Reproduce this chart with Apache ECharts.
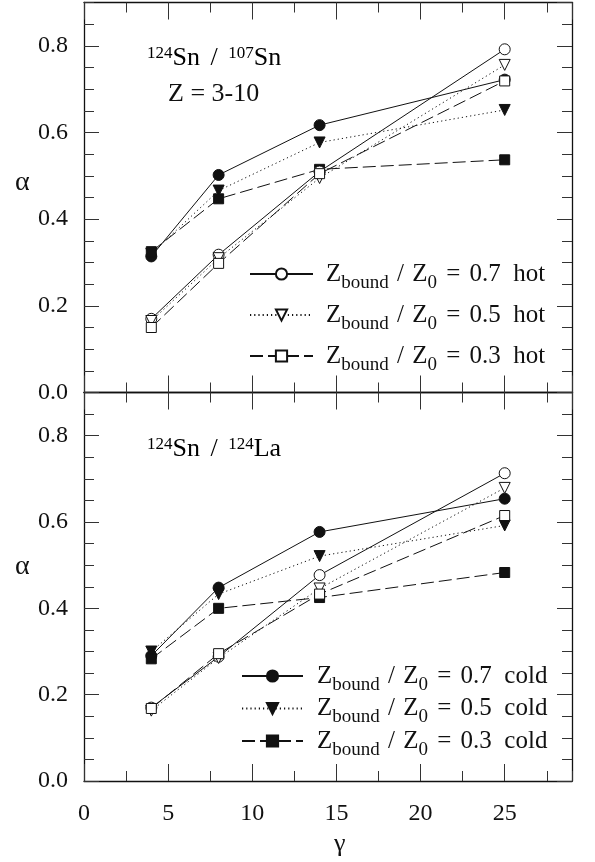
<!DOCTYPE html>
<html><head><meta charset="utf-8">
<script src="https://cdn.jsdelivr.net/npm/echarts@6/dist/echarts.min.js"></script>
<style>html,body{margin:0;padding:0;background:#fff}#c{width:595px;height:862px}</style>
</head><body><div id="c"></div>
<script>
const gammas = [4, 8, 14, 25];
// top panel: 124Sn / 107Sn
const hot07T = [0.170, 0.318, 0.510, 0.792];
const hot05T = [0.165, 0.310, 0.495, 0.756];
const hot03T = [0.150, 0.298, 0.505, 0.719];
const cold07T = [0.314, 0.502, 0.617, 0.722];
const cold05T = [0.320, 0.466, 0.577, 0.652];
const cold03T = [0.325, 0.447, 0.515, 0.537];
// bottom panel: 124Sn / 124La
const hot07B = [0.170, 0.288, 0.477, 0.713];
const hot05B = [0.163, 0.285, 0.446, 0.679];
const hot03B = [0.168, 0.295, 0.433, 0.615];
const cold07B = [0.290, 0.448, 0.577, 0.654];
const cold05B = [0.300, 0.433, 0.521, 0.592];
const cold03B = [0.283, 0.400, 0.425, 0.483];
const xTicks = [0, 5, 10, 15, 20, 25];
const yTicks = [0.0, 0.2, 0.4, 0.6, 0.8];
const legendHot = ['0.7 hot', '0.5 hot', '0.3 hot'];
const legendCold = ['0.7 cold', '0.5 cold', '0.3 cold'];

const FONT = 'Liberation Serif';
const BLACK = '#111';
const pts = ys => gammas.map((g, i) => [g, ys[i]]);

const styles = {
  '0.7': {symbol: 'circle', size: 11, rot: 0, line: 'solid'},
  '0.5': {symbol: 'triangle', size: 11, rot: 180, line: [1.2, 3]},
  '0.3': {symbol: 'rect', size: 10, rot: 0, line: [13, 5]}
};
function mk(name, ys, panel) {
  const key = name.slice(0, 3);
  const st = styles[key];
  const open = name.indexOf('hot') >= 0;
  return {
    type: 'line', name: name, data: pts(ys),
    xAxisIndex: panel, yAxisIndex: panel,
    symbol: st.symbol, symbolSize: st.size, symbolRotate: st.rot,
    showAllSymbol: true,
    lineStyle: {color: BLACK, width: 1, type: st.line},
    itemStyle: open ? {color: '#fff', borderColor: BLACK, borderWidth: 1} : {color: BLACK, borderColor: BLACK, borderWidth: 1},
    emphasis: {disabled: true}, silent: true, z: open ? 3 : 2
  };
}
const series = [
  mk('0.7 cold', cold07T, 0), mk('0.5 cold', cold05T, 0), mk('0.3 cold', cold03T, 0),
  mk('0.7 hot', hot07T, 0), mk('0.5 hot', hot05T, 0), mk('0.3 hot', hot03T, 0),
  mk('0.7 cold', cold07B, 1), mk('0.5 cold', cold05B, 1), mk('0.3 cold', cold03B, 1),
  mk('0.7 hot', hot07B, 1), mk('0.5 hot', hot05B, 1), mk('0.3 hot', hot03B, 1)
];

const grids = [
  {left: 84, top: 2.5, width: 488, height: 390},
  {left: 84, top: 392.5, width: 488, height: 388.5}
];
function axLine(show) { return {show: show, onZero: false, lineStyle: {color: BLACK, width: 1.3}}; }
function xAx(grid, pos, major, labels) {
  return {
    type: 'value', gridIndex: grid, position: pos, min: 0, max: 29,
    interval: major ? 5 : 2.5,
    axisLine: axLine(major),
    axisTick: {show: true, inside: true, length: major ? 17 : 10, lineStyle: {color: '#333', width: 1}},
    axisLabel: {show: labels, margin: 21, fontFamily: FONT, fontSize: 24, color: BLACK, showMaxLabel: false,
      formatter: v => xTicks.indexOf(v) >= 0 ? String(v) : ''},
    splitLine: {show: false}
  };
}
function yAx(grid, pos, major, labels) {
  return {
    type: 'value', gridIndex: grid, position: pos, min: 0, max: 0.9,
    interval: major ? 0.2 : 0.05,
    axisLine: axLine(major),
    axisTick: {show: true, inside: true, length: major ? 15 : 10, lineStyle: {color: '#333', width: 1}},
    axisLabel: {show: labels, margin: 16, fontFamily: FONT, fontSize: 24, color: BLACK, showMaxLabel: false,
      formatter: v => yTicks.some(t => Math.abs(t - v) < 1e-6) ? v.toFixed(1) : ''},
    splitLine: {show: false}
  };
}
const xAxis = [
  xAx(0, 'bottom', true, false), xAx(1, 'bottom', true, true),
  xAx(0, 'top', true, false), xAx(1, 'top', true, false),
  xAx(2, 'bottom', false, false), xAx(3, 'bottom', false, false),
  xAx(2, 'top', false, false), xAx(3, 'top', false, false)
];
const yAxis = [
  yAx(0, 'left', true, true), yAx(1, 'left', true, true),
  yAx(0, 'right', true, false), yAx(1, 'right', true, false),
  yAx(2, 'left', false, false), yAx(3, 'left', false, false),
  yAx(2, 'right', false, false), yAx(3, 'right', false, false)
];

function richFor(lead) {
  const base = {fontFamily: FONT, fontSize: 25, color: BLACK, lineHeight: 26};
  return {
    z: base,
    zp: Object.assign({}, base, {padding: [0, 0, 0, lead]}),
    sl: Object.assign({}, base, {padding: [0, 2, 0, 2]}),
    eq: Object.assign({}, base, {padding: [0, 3, 0, 3]}),
    s: {fontFamily: FONT, fontSize: 19, color: BLACK, lineHeight: 8, padding: [18, 0, 0, 0]}
  };
}
const legFmt = n => {
  const parts = n.split(' ');
  return '{zp|Z}{s|bound}{sl| / }{z|Z}{s|0}{eq| = }{z|' + parts[0] + '  ' + parts[1] + '}';
};
function legend(data, left, top, width, gap, lead) {
  return {
    data: data, orient: 'vertical', left: left, top: top, itemWidth: width, itemHeight: 14,
    itemGap: gap, selectedMode: false, formatter: legFmt, padding: 0,
    textStyle: {rich: richFor(lead), fontFamily: FONT, fontSize: 25, color: BLACK},
    inactiveColor: BLACK
  };
}

const annRich = {
  m: {fontFamily: FONT, fontSize: 26, color: BLACK, lineHeight: 28},
  sl: {fontFamily: FONT, fontSize: 26, color: BLACK, lineHeight: 28, padding: [0, 4, 0, 4]},
  p: {fontFamily: FONT, fontSize: 17, color: BLACK, lineHeight: 6, padding: [0, 0, 10, 0]}
};
const graphic = [
  {type: 'text', left: 147, top: 45, style: {text: '{p|124}{m|Sn}{sl| / }{p|107}{m|Sn}', rich: annRich}},
  {type: 'text', left: 168, top: 81, style: {text: 'Z = 3-10', fontFamily: FONT, fontSize: 26, fill: BLACK}},
  {type: 'text', left: 147, top: 436, style: {text: '{p|124}{m|Sn}{sl| / }{p|124}{m|La}', rich: annRich}},
  {type: 'text', left: 15, top: 169, style: {text: 'α', fontFamily: FONT, fontSize: 28, fill: BLACK}},
  {type: 'text', left: 15, top: 553, style: {text: 'α', fontFamily: FONT, fontSize: 28, fill: BLACK}},
  {type: 'text', left: 334, top: 831, style: {text: 'γ', fontFamily: FONT, fontSize: 26, fill: BLACK}}
];

const chart = echarts.init(document.getElementById('c'), null, {renderer: 'canvas'});
chart.setOption({
  animation: false,
  backgroundColor: '#fff',
  textStyle: {fontFamily: FONT},
  grid: [grids[0], grids[1], grids[0], grids[1]],
  xAxis: xAxis, yAxis: yAxis,
  legend: [legend(legendHot, 249, 255.5, 63, 4, 8), legend(legendCold, 241, 657.5, 61, -4.5, 9)],
  series: series,
  graphic: graphic
});
</script></body></html>
